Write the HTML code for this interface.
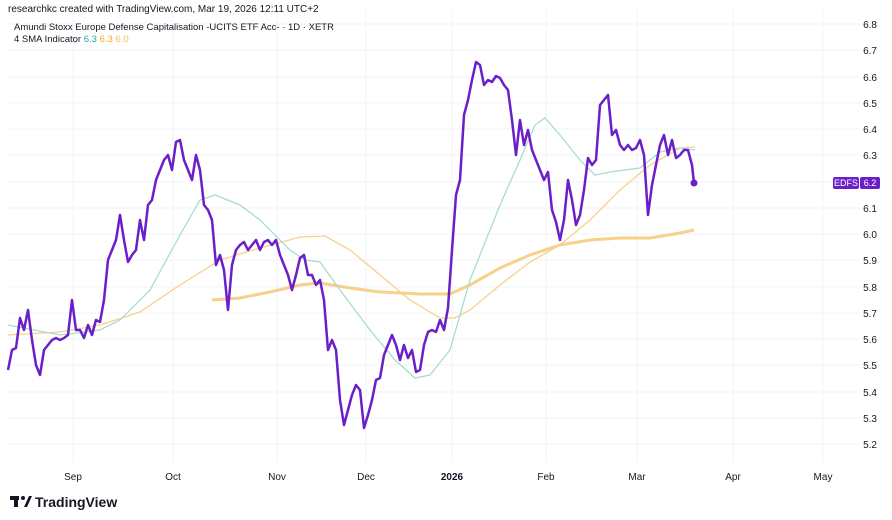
<!DOCTYPE html>
<html><head><meta charset="utf-8"><style>
body{margin:0;width:892px;height:515px;background:#fff;overflow:hidden;font-family:"Liberation Sans",sans-serif}
</style></head><body>
<svg width="892" height="515" viewBox="0 0 892 515" xmlns="http://www.w3.org/2000/svg" font-family="Liberation Sans, sans-serif">
<g stroke="#f0f3fa" stroke-width="1">
<line x1="8" x2="860" y1="24" y2="24"/><line x1="8" x2="860" y1="50" y2="50"/><line x1="8" x2="860" y1="77" y2="77"/><line x1="8" x2="860" y1="103" y2="103"/><line x1="8" x2="860" y1="129" y2="129"/><line x1="8" x2="860" y1="155" y2="155"/><line x1="8" x2="860" y1="182" y2="182"/><line x1="8" x2="860" y1="208" y2="208"/><line x1="8" x2="860" y1="234" y2="234"/><line x1="8" x2="860" y1="260" y2="260"/><line x1="8" x2="860" y1="287" y2="287"/><line x1="8" x2="860" y1="313" y2="313"/><line x1="8" x2="860" y1="339" y2="339"/><line x1="8" x2="860" y1="365" y2="365"/><line x1="8" x2="860" y1="392" y2="392"/><line x1="8" x2="860" y1="418" y2="418"/><line x1="8" x2="860" y1="444" y2="444"/>
<line x1="73" x2="73" y1="10" y2="462"/><line x1="173" x2="173" y1="10" y2="462"/><line x1="277" x2="277" y1="10" y2="462"/><line x1="366" x2="366" y1="10" y2="462"/><line x1="452" x2="452" y1="10" y2="462"/><line x1="546" x2="546" y1="10" y2="462"/><line x1="637" x2="637" y1="10" y2="462"/><line x1="733" x2="733" y1="10" y2="462"/><line x1="823" x2="823" y1="10" y2="462"/>
</g>
<g font-size="10" fill="#131722" text-anchor="middle">
<text x="73" y="480">Sep</text><text x="173" y="480">Oct</text><text x="277" y="480">Nov</text><text x="366" y="480">Dec</text><text x="452" y="480" font-weight="bold">2026</text><text x="546" y="480">Feb</text><text x="637" y="480">Mar</text><text x="733" y="480">Apr</text><text x="823" y="480">May</text>
</g>
<g font-size="10" fill="#131722" text-anchor="end">
<text x="877" y="28">6.8</text><text x="877" y="54">6.7</text><text x="877" y="81">6.6</text><text x="877" y="107">6.5</text><text x="877" y="133">6.4</text><text x="877" y="159">6.3</text><text x="877" y="212">6.1</text><text x="877" y="238">6.0</text><text x="877" y="264">5.9</text><text x="877" y="291">5.8</text><text x="877" y="317">5.7</text><text x="877" y="343">5.6</text><text x="877" y="369">5.5</text><text x="877" y="396">5.4</text><text x="877" y="422">5.3</text><text x="877" y="448">5.2</text>
</g>
<polyline fill="none" stroke="#f7d08a" stroke-width="1.3" points="8,335 60,332 100,325 140,312 180,285 220,260 260,248 300,237 325,236 350,250 380,275 410,300 440,318 455,318 470,310 500,285 530,262 560,245 590,220 620,190 650,165 680,148 695,147"/>
<polyline fill="none" stroke="#f7d08a" stroke-width="3" points="212,300 240,298 270,292 300,285 320,283 350,288 380,292 420,294 450,294 470,285 500,268 530,255 560,245 590,240 620,238 650,238 680,233 694,230"/>
<polyline fill="none" stroke="#a8dcd0" stroke-width="1.3" points="8,325 60,335 100,330 120,320 150,290 180,235 200,200 215,195 240,205 260,220 290,250 305,260 320,262 340,290 370,330 395,360 415,378 430,375 450,350 470,280 500,205 520,160 535,125 545,118 560,135 580,160 595,175 610,172 640,168 660,152 680,148 695,150"/>
<polyline fill="none" stroke="#6a1fc8" stroke-width="2.5" stroke-linejoin="round" points="8,370 12,350 16,348 20,318 24,330 28,310 32,340 36,365 40,375 44,350 48,345 52,340 56,338 60,340 64,338 68,335 72,300 76,330 80,330 84,338 88,325 92,335 96,320 100,322 104,300 108,260 112,250 116,240 120,215 124,240 128,262 132,255 136,250 140,220 144,240 148,205 152,200 156,180 160,170 164,160 168,155 172,170 176,142 180,140 184,160 188,170 192,180 196,155 200,170 204,205 208,210 212,220 216,265 220,255 224,270 228,310 232,265 236,250 240,245 244,242 248,250 252,245 256,240 260,250 264,242 268,240 272,245 276,240 280,255 284,265 288,275 292,290 296,275 300,258 304,255 308,275 312,275 316,285 320,280 324,300 328,350 332,340 336,350 340,400 344,425 348,410 352,395 356,385 360,390 364,428 368,415 372,400 376,380 380,378 384,355 388,345 392,335 396,345 400,360 404,345 408,358 412,350 416,372 420,370 424,345 428,332 432,330 436,332 440,320 444,330 448,308 452,250 456,195 460,180 464,115 468,100 472,80 476,62 480,65 484,85 488,80 492,82 496,76 500,78 504,85 508,90 512,120 516,155 520,120 524,145 528,130 532,150 536,160 540,170 544,180 548,172 552,210 556,222 560,240 564,220 568,180 572,200 576,225 580,215 584,190 588,158 592,165 596,160 600,105 604,100 608,95 612,135 616,130 620,145 624,150 628,145 632,150 636,148 640,140 644,155 648,215 652,185 656,165 660,145 664,135 668,155 672,140 676,158 680,155 684,150 688,150 692,165 694,183"/>
<circle cx="694" cy="183" r="3.5" fill="#6a1fc8"/>
<rect x="833" y="177" width="26" height="12" rx="2" fill="#6a1fc8"/><rect x="860" y="177" width="20" height="12" rx="2" fill="#6a1fc8"/>
<text x="846" y="186" font-size="9" fill="#fff" text-anchor="middle">EDFS</text><text x="870" y="186" font-size="9" fill="#fff" text-anchor="middle">6.2</text>
<text x="8" y="12" font-size="10" fill="#131722">researchkc created with TradingView.com, Mar 19, 2026 12:11 UTC+2</text>
<text x="14" y="30" font-size="9.5" fill="#131722">Amundi Stoxx Europe Defense Capitalisation -UCITS ETF Acc- · 1D · XETR</text>
<text x="14" y="42" font-size="9.5" fill="#131722">4 SMA Indicator <tspan fill="#26a69a">6.3</tspan> <tspan fill="#f5a623">6.3</tspan> <tspan fill="#f7c05a">6.0</tspan></text>
<g fill="#131722"><rect x="10" y="496" width="9" height="4"/><rect x="14" y="496" width="4" height="11"/><circle cx="23" cy="498" r="2"/><path d="M24 507 L29 496 L32 496 L27 507Z"/></g>
<text x="35" y="507" font-size="14" font-weight="bold" fill="#131722">TradingView</text>
</svg>
</body></html>
